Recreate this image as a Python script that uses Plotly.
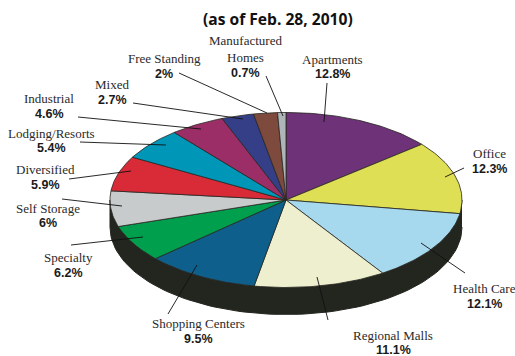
import math
import plotly.graph_objects as go

# Portfolio share by property type, in clockwise order from twelve o'clock
categories = ["Apartments", "Office", "Health Care", "Regional Malls", "Shopping Centers",
              "Specialty", "Self Storage", "Diversified", "Lodging/Resorts", "Industrial",
              "Mixed", "Free Standing", "Manufactured<br>Homes"]
shares = [12.8, 12.3, 12.1, 11.1, 9.5, 6.2, 6, 5.9, 5.4, 4.6, 2.7, 2, 0.7]

slice_colors = ["#6d3278", "#dfdf55", "#a6d8ee", "#eeefce", "#0f5f8c", "#009f4d", "#c7cbcc",
                "#d92a37", "#0096b8", "#9c2e67", "#353f87", "#7e4a3d", "#aeb6ba"]

# Tilted-disc geometry, in page pixels
CX, CY, RX, RY, DEPTH = 286, 200, 176, 87.5, 27
WALL = "#23251f"
EDGE = "#26261f"

# name centre (x, y), value centre y
label_pos = [(332, 59, 74), (489, 153, 169), (484, 288, 304), (393, 335, 350), (198, 323, 339),
             (68, 257, 273), (48, 208, 223), (45, 169, 185), (51, 133, 148), (49, 98, 114),
             (112, 84, 100), (164, 58, 74), (245, 49, 73)]

# leader lines: outer end, inner end
leaders = [((327, 83), (324, 122)), ((464, 168), (445, 177)), ((465, 273), (421, 243)),
           ((328, 320), (317, 277)), ((168, 314), (197, 265)), ((71, 245), (143, 237)),
           ((62, 199), (122, 206)), ((69, 179), (131, 171)), ((80, 142), (166, 145)),
           ((78, 117), (201, 129)), ((133, 103), (243, 119)), ((179, 73), (267, 113)),
           ((266, 76), (283, 116))]


def rim_point(deg, drop=0.0):
    a = math.radians(deg)
    return CX + RX * math.sin(a), CY - RY * math.cos(a) + drop


fig = go.Figure()

# Side wall: the lower half of the rim swept down by the disc depth
lower = [rim_point(90 + d) for d in range(0, 181, 2)]
wall = lower + [(x, y + DEPTH) for x, y in reversed(lower)]
fig.add_trace(go.Scatter(x=[p[0] for p in wall], y=[p[1] for p in wall], mode="lines",
                         fill="toself", fillcolor=WALL, line=dict(color=WALL, width=1),
                         hoverinfo="skip", showlegend=False))

# Top face wedges, sized from the shares
total = sum(shares)
start = 0.0
for name, share, color in zip(categories, shares, slice_colors):
    sweep = share / total * 360
    steps = max(2, int(sweep))
    arc = [rim_point(start + sweep * i / steps) for i in range(steps + 1)]
    pts = [(CX, CY)] + arc + [(CX, CY)]
    fig.add_trace(go.Scatter(x=[p[0] for p in pts], y=[p[1] for p in pts], mode="lines",
                             fill="toself", fillcolor=color, line=dict(color=EDGE, width=0.8),
                             name=name.replace("<br>", " "), showlegend=False,
                             hovertemplate="%{fullData.name}<extra></extra>"))
    start += sweep

shapes = [dict(type="line", xref="x", yref="y", x0=a[0], y0=a[1], x1=b[0], y1=b[1],
               line=dict(color="#111111", width=0.9)) for a, b in leaders]

serif = dict(family="Liberation Serif", size=13, color="#2a2a2a")
sans = dict(family="Liberation Sans", size=12.5, color="#1a1a1a")
annotations = [dict(text="<b>(as of Feb. 28, 2010)</b>", x=278, y=19, xref="x", yref="y",
                    showarrow=False, font=dict(family="Open Sans", size=15.6, color="#111111"))]
for name, share, (x, y_name, y_value) in zip(categories, shares, label_pos):
    annotations.append(dict(text=name, x=x, y=y_name, xref="x", yref="y", showarrow=False,
                            font=serif, align="center"))
    annotations.append(dict(text=f"<b>{share}%</b>", x=x, y=y_value, xref="x", yref="y",
                            showarrow=False, font=sans))

fig.update_layout(
    width=515, height=356, margin=dict(l=0, r=0, t=0, b=0),
    paper_bgcolor="white", plot_bgcolor="white",
    xaxis=dict(range=[0, 515], visible=False, fixedrange=True),
    yaxis=dict(range=[356, 0], visible=False, fixedrange=True),
    shapes=shapes, annotations=annotations,
)
fig.write_html("out.html", config={"displayModeBar": False})
